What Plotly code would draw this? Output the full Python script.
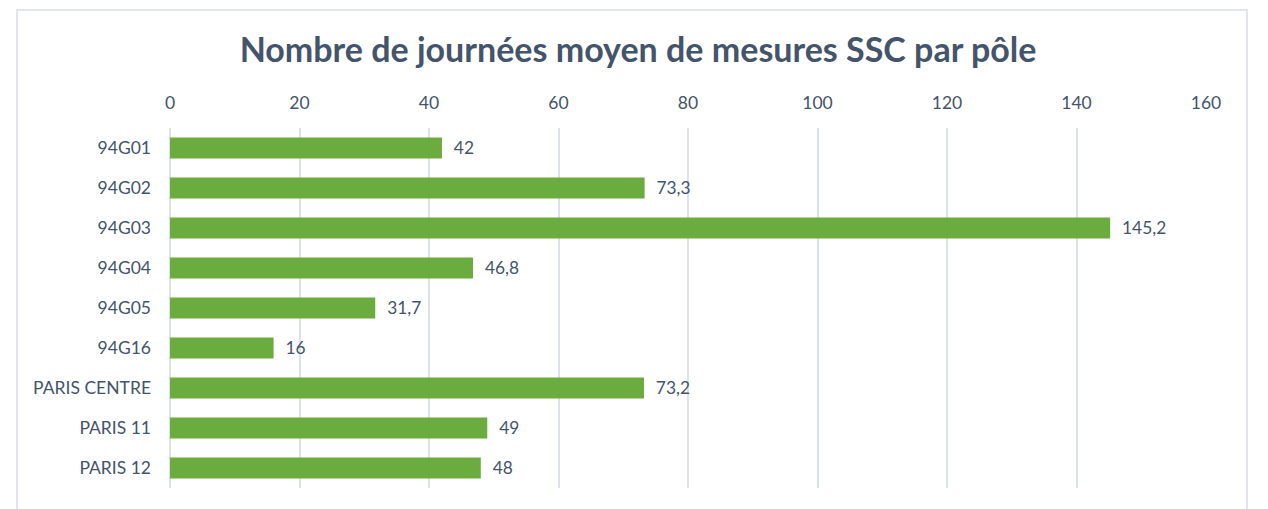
import plotly.graph_objects as go

categories = ["94G01", "94G02", "94G03", "94G04", "94G05", "94G16", "PARIS CENTRE", "PARIS 11", "PARIS 12"]
values = [42, 73.3, 145.2, 46.8, 31.7, 16, 73.2, 49, 48]
x_ticks = [0, 20, 40, 60, 80, 100, 120, 140, 160]
title_text = "Nombre de journées moyen de mesures SSC par pôle"

labels = ["\u00a0\u00a0" + ("%g" % v).replace(".", ",") for v in values]

TXT = "#44546A"
GRID = "#DDE2EA"
FONT = "Lato, Open Sans, sans-serif"

fig = go.Figure(go.Bar(
    x=values, y=categories, orientation="h",
    marker=dict(color="#6BAC3E", line=dict(width=0)),
    text=labels, textposition="outside", cliponaxis=False,
    textfont=dict(family=FONT, size=17.5, color=TXT),
    width=0.52,
))

# page body has an 8px margin: figure div starts at (8, 8)
OFF = 8
W, H = 1268 - OFF, 509 - OFF
L, R, T, B = 170 - OFF, 62, 128 - OFF, 21
pw, ph = W - L - R, H - T - B

def px_x(p):
    return (p - OFF - L) / pw

def px_y(p):
    return (H - B - (p - OFF)) / ph

fig.update_layout(
    width=W, height=H,
    margin=dict(l=L, r=R, t=T, b=B),
    paper_bgcolor="white", plot_bgcolor="white",
    showlegend=False,
    title=dict(text="<b>" + title_text + "</b>", x=0.5, xanchor="center",
               y=1 - (50 - OFF) / H, yanchor="middle",
               font=dict(family=FONT, size=34, color=TXT)),
    font=dict(family=FONT, size=17.5, color=TXT),
    xaxis=dict(side="top", range=[0, 160], tickvals=x_ticks, showgrid=True, gridcolor=GRID, gridwidth=1.5,
               zeroline=True, zerolinecolor=GRID, zerolinewidth=1.5, showline=False,
               ticklabelstandoff=15, tickfont=dict(size=17.5, color=TXT)),
    yaxis=dict(autorange="reversed", showgrid=False, showline=False, ticklabelstandoff=18,
               tickfont=dict(size=17.5, color=TXT)),
    shapes=[dict(type="rect", xref="paper", yref="paper",
                 x0=px_x(17), x1=px_x(1247), y0=px_y(520), y1=px_y(10),
                 line=dict(color="#D9DEE6", width=1.5), fillcolor="rgba(0,0,0,0)", layer="below")],
)

fig.write_html("out.html")
